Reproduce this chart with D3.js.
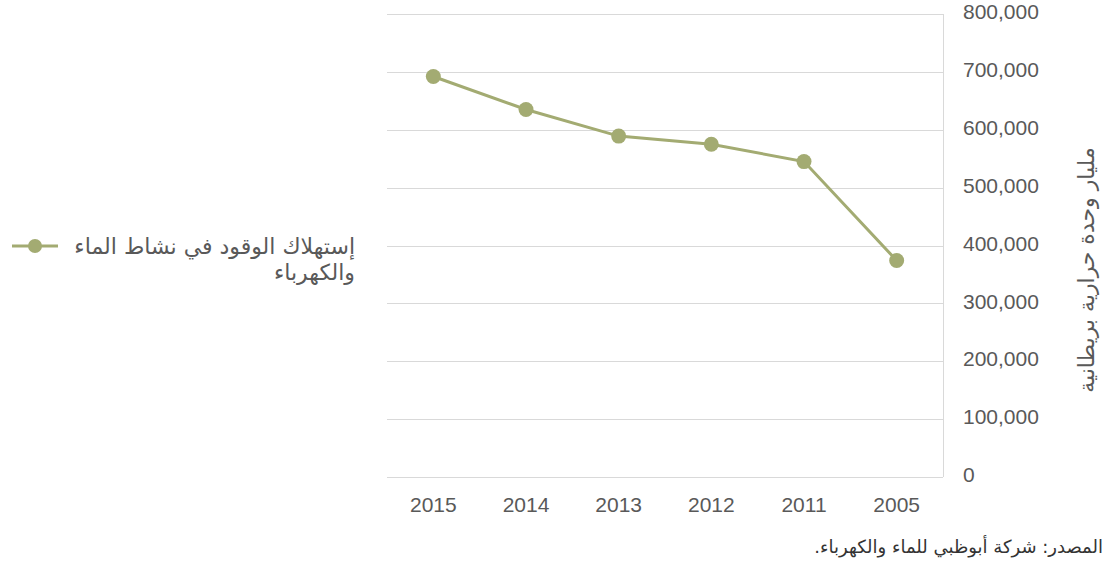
<!DOCTYPE html>
<html>
<head>
<meta charset="utf-8">
<script src="https://cdn.jsdelivr.net/npm/d3@7"></script>
<style>
  body { margin: 0; background: #fff; }
  svg { display: block; }
</style>
</head>
<body>
<div class="chart"></div>
<script>
const width = 1114,
      height = 563;

// data (right-to-left chart, newest year first)
const years = ["2015", "2014", "2013", "2012", "2011", "2005"];
const fuel = [692000, 635000, 589000, 575000, 545000, 374000];
const yTicks = [0, 100000, 200000, 300000, 400000, 500000, 600000, 700000, 800000];

const seriesName = ["إستهلاك الوقود في نشاط الماء", "والكهرباء"];
const yTitle = "مليار وحدة حرارية بريطانية";
const source = "المصدر: شركة أبوظبي للماء والكهرباء.";

const color = "#a3ab72",
      textColor = "#595959",
      gridColor = "#d9d9d9",
      latin = "'Liberation Sans', Arial, sans-serif",
      arabic = "'DejaVu Sans', sans-serif";

let plot = {left: 387, right: 943, top: 14, bottom: 477};

let svg = d3.select(".chart").append("svg")
            .attr("width", width)
            .attr("height", height);

let x = d3.scaleBand().domain(years).range([plot.left, plot.right]);
let y = d3.scaleLinear().domain([0, 800000]).range([plot.bottom, plot.top]);

// gridlines
svg.append("g")
   .selectAll("line")
   .data(yTicks)
   .enter()
   .append("line")
     .attr("x1", plot.left)
     .attr("x2", plot.right)
     .attr("y1", d => Math.round(y(d)) + 0.5)
     .attr("y2", d => Math.round(y(d)) + 0.5)
     .style("stroke", gridColor)
     .style("stroke-width", 1);

// right axis line
svg.append("line")
   .attr("x1", plot.right + 0.5).attr("x2", plot.right + 0.5)
   .attr("y1", plot.top).attr("y2", plot.bottom)
   .style("stroke", gridColor);

// y axis (right side)
let yAxis = svg.append("g")
   .attr("transform", "translate(" + plot.right + ",0)")
   .call(d3.axisRight(y).tickValues(yTicks).tickSize(0).tickPadding(20)
           .tickFormat(d3.format(",")));
yAxis.select(".domain").remove();
yAxis.selectAll("text")
     .attr("dy", "0.22em")
     .style("font-family", latin)
     .style("font-size", "21px")
     .style("fill", textColor);

// x axis
let xAxis = svg.append("g")
   .attr("transform", "translate(0," + plot.bottom + ")")
   .call(d3.axisBottom(x).tickSize(0).tickPadding(20));
xAxis.select(".domain").remove();
xAxis.selectAll("text")
     .style("font-family", latin)
     .style("font-size", "21px")
     .style("fill", textColor);

// line + markers
let line = d3.line()
   .x((d, i) => x(years[i]) + x.bandwidth() / 2)
   .y(d => y(d));

svg.append("path")
   .datum(fuel)
   .attr("d", line)
   .style("fill", "none")
   .style("stroke", color)
   .style("stroke-width", 3);

svg.selectAll("circle.pt")
   .data(fuel)
   .enter()
   .append("circle")
     .attr("class", "pt")
     .attr("cx", (d, i) => x(years[i]) + x.bandwidth() / 2)
     .attr("cy", d => y(d))
     .attr("r", 7.5)
     .style("fill", color);

// y axis title
svg.append("text")
   .attr("transform", "translate(1086,270) rotate(-90)")
   .attr("text-anchor", "middle")
   .attr("dy", "0.35em")
   .attr("direction", "rtl")
   .style("font-family", arabic)
   .style("font-size", "22px")
   .style("fill", textColor)
   .text(yTitle);

// legend
let legend = svg.append("g");
legend.append("line")
   .attr("x1", 12).attr("x2", 58)
   .attr("y1", 246).attr("y2", 246)
   .style("stroke", color)
   .style("stroke-width", 3);
legend.append("circle")
   .attr("cx", 35).attr("cy", 246).attr("r", 7)
   .style("fill", color);
legend.selectAll("text")
   .data(seriesName)
   .enter()
   .append("text")
     .attr("x", 355)
     .attr("y", (d, i) => 254 + i * 26)
     .attr("direction", "rtl")
     .attr("text-anchor", "start")
     .style("font-family", arabic)
     .style("font-size", "22px")
     .style("fill", textColor)
     .text(d => d);

// source note
svg.append("text")
   .attr("x", 1103)
   .attr("y", 553)
   .attr("direction", "rtl")
   .attr("text-anchor", "start")
   .style("font-family", arabic)
   .style("font-size", "18px")
   .style("fill", "#333")
   .text(source);
</script>
</body>
</html>
